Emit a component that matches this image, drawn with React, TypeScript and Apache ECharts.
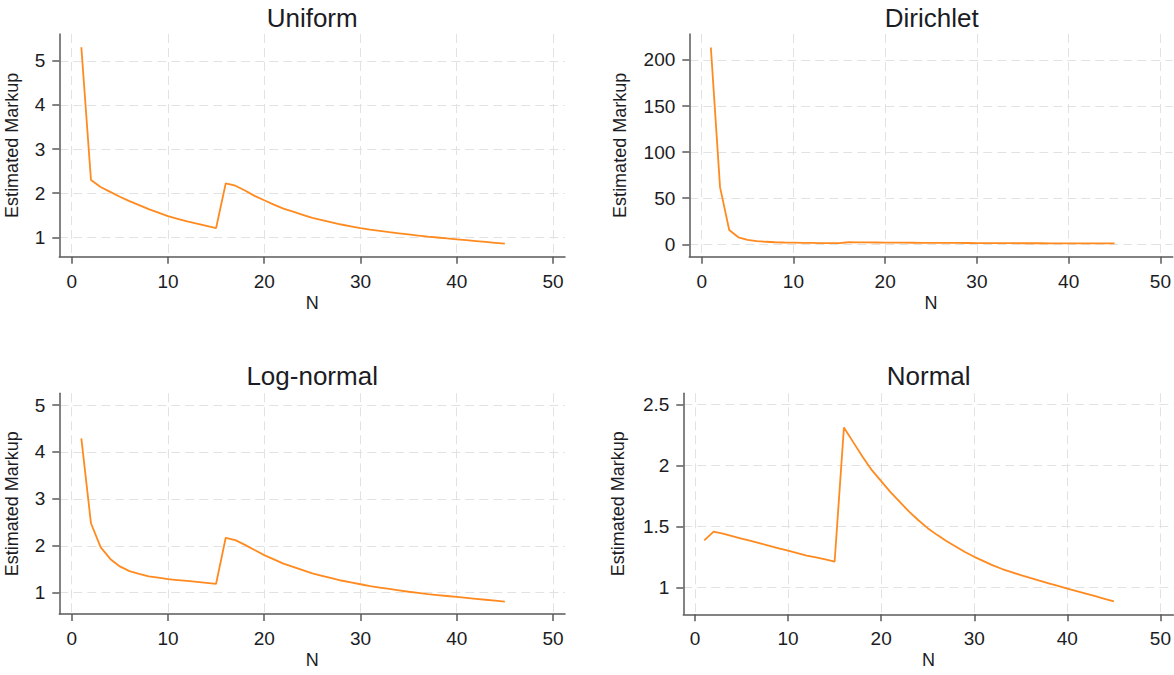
import React, { useEffect, useRef } from "react";
import * as echarts from "echarts";

const N = [1, 2, 3, 4, 5, 6, 7, 8, 9, 10, 11, 12, 13, 14, 15, 16, 17, 18, 19, 20, 21, 22, 23, 24, 25, 26, 27, 28, 29, 30, 31, 32, 33, 34, 35, 36, 37, 38, 39, 40, 41, 42, 43, 44, 45];

const uniform = [5.31, 2.30, 2.14, 2.03, 1.92, 1.82, 1.73, 1.64, 1.56, 1.48, 1.42, 1.36, 1.31, 1.26, 1.21, 2.22, 2.17, 2.06, 1.94, 1.84, 1.74, 1.65, 1.58, 1.51, 1.44, 1.39, 1.34, 1.29, 1.25, 1.21, 1.175, 1.145, 1.115, 1.09, 1.065, 1.04, 1.015, 0.995, 0.975, 0.955, 0.935, 0.915, 0.895, 0.875, 0.855];
const dirichlet = [213.5, 62, 15.5, 7.6, 4.8, 3.4, 2.7, 2.2, 1.9, 1.7, 1.5, 1.4, 1.3, 1.2, 1.2, 2.2, 2.1, 2.0, 1.9, 1.8, 1.75, 1.7, 1.65, 1.6, 1.55, 1.5, 1.45, 1.4, 1.35, 1.3, 1.25, 1.2, 1.18, 1.15, 1.12, 1.1, 1.08, 1.05, 1.03, 1.0, 0.98, 0.96, 0.94, 0.92, 0.9];
const lognormal = [4.29, 2.48, 1.97, 1.72, 1.56, 1.46, 1.40, 1.35, 1.32, 1.29, 1.27, 1.25, 1.23, 1.21, 1.19, 2.17, 2.12, 2.02, 1.91, 1.80, 1.71, 1.62, 1.55, 1.48, 1.41, 1.36, 1.31, 1.26, 1.22, 1.18, 1.14, 1.11, 1.08, 1.05, 1.02, 0.995, 0.97, 0.95, 0.93, 0.91, 0.89, 0.87, 0.85, 0.83, 0.81];
const normal = [1.385, 1.456, 1.44, 1.42, 1.40, 1.38, 1.36, 1.34, 1.32, 1.30, 1.28, 1.26, 1.245, 1.23, 1.21, 2.31, 2.19, 2.07, 1.96, 1.87, 1.78, 1.70, 1.62, 1.55, 1.485, 1.43, 1.38, 1.335, 1.29, 1.25, 1.215, 1.18, 1.15, 1.125, 1.10, 1.077, 1.055, 1.033, 1.011, 0.99, 0.969, 0.948, 0.927, 0.906, 0.885];

const titles = ["Uniform", "Dirichlet", "Log-normal", "Normal"];
const xTicks = [0, 10, 20, 30, 40, 50];
const uniformYTicks = [1, 2, 3, 4, 5];
const dirichletYTicks = [0, 50, 100, 150, 200];
const lognormalYTicks = [1, 2, 3, 4, 5];
const normalYTicks = [1, 1.5, 2, 2.5];
const xName = "N";
const yName = "Estimated Markup";

const FONT = "Liberation Sans, Arial, sans-serif";
const TEXT = "#1c1c24";
const AXIS = "#5a5a5a";
const GRID = "#e2e2e2";
const LINE = "#ff8a1f";

const panels = [
  { data: uniform, yTicks: uniformYTicks, left: 59.3, top: 34, width: 505.7, height: 222.7, xMin: -1.29, xMax: 51.25, yMin: 0.56, yMax: 5.61, yGap: 38 },
  { data: dirichlet, yTicks: dirichletYTicks, left: 689.3, top: 34, width: 484.7, height: 222.7, xMin: -1.35, xMax: 51.34, yMin: -13.5, yMax: 228.2, yGap: 60 },
  { data: lognormal, yTicks: lognormalYTicks, left: 59.3, top: 393.3, width: 505.7, height: 220.7, xMin: -1.29, xMax: 51.25, yMin: 0.546, yMax: 5.25, yGap: 38 },
  { data: normal, yTicks: normalYTicks, left: 683.3, top: 393.3, width: 490.7, height: 221, xMin: -1.255, xMax: 51.4, yMin: 0.779, yMax: 2.59, yGap: 56 },
];

export default function App() {
  const ref = useRef<HTMLDivElement>(null);
  useEffect(() => {
    if (!ref.current) return;
    const chart = echarts.init(ref.current, null, { renderer: "svg" });
    const grid = panels.map((p) => ({ left: p.left, top: p.top, width: p.width, height: p.height, containLabel: false }));
    const xAxis = panels.map((p, i) => ({
      type: "value",
      gridIndex: i,
      min: p.xMin,
      max: p.xMax,
      name: xName,
      nameLocation: "middle",
      nameGap: 37,
      nameTextStyle: { fontFamily: FONT, fontSize: 18, color: TEXT },
      axisLine: { show: true, onZero: false, lineStyle: { color: AXIS, width: 1.5 } },
      axisTick: { show: true, length: 7, customValues: xTicks, lineStyle: { color: AXIS, width: 1.5 } },
      axisLabel: { customValues: xTicks, margin: 15, fontFamily: FONT, fontSize: 19, color: TEXT },
      splitLine: { show: true, lineStyle: { color: GRID, width: 1, type: [9, 5] } },
    }));
    const yAxis = panels.map((p, i) => ({
      type: "value",
      gridIndex: i,
      min: p.yMin,
      max: p.yMax,
      name: yName,
      nameLocation: "middle",
      nameGap: p.yGap,
      nameRotate: 90,
      nameTextStyle: { fontFamily: FONT, fontSize: 18, color: TEXT },
      axisLine: { show: true, onZero: false, lineStyle: { color: AXIS, width: 1.5 } },
      axisTick: { show: true, length: 7, customValues: p.yTicks, lineStyle: { color: AXIS, width: 1.5 } },
      axisLabel: { customValues: p.yTicks, margin: 14, fontFamily: FONT, fontSize: 19, color: TEXT },
      splitLine: { show: true, lineStyle: { color: GRID, width: 1, type: [9, 5] } },
    }));
    const series = panels.map((p, i) => ({
      type: "line",
      xAxisIndex: i,
      yAxisIndex: i,
      data: N.map((n, j) => [n, p.data[j]]),
      showSymbol: false,
      symbol: "none",
      clip: false,
      lineStyle: { color: LINE, width: 1.8 },
    }));
    const graphic = panels.map((p, i) => ({
      type: "text",
      x: p.left + p.width / 2,
      y: i < 2 ? 18 : 376,
      style: { text: titles[i], font: `26px ${FONT}`, fill: TEXT, align: "center", verticalAlign: "middle" },
    }));
    chart.setOption({
      animation: false,
      backgroundColor: "#ffffff",
      grid,
      xAxis,
      yAxis,
      series,
      graphic,
    });
    return () => chart.dispose();
  }, []);
  return <div ref={ref} style={{ position: "fixed", left: 0, top: 0, width: 1174, height: 675 }} />;
}
